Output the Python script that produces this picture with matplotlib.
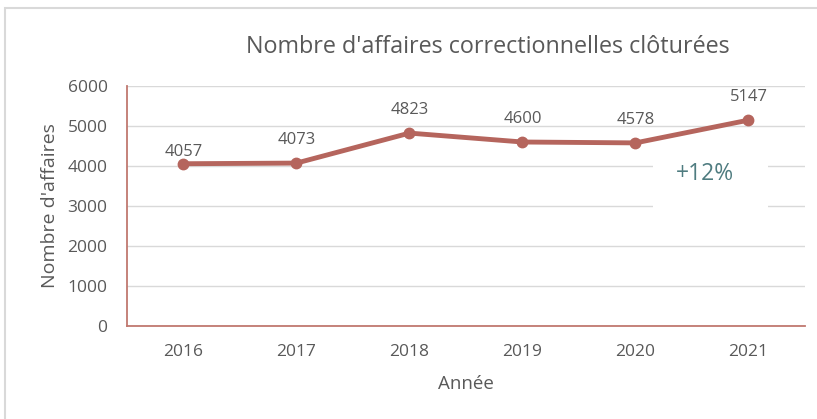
import matplotlib.pyplot as plt
from matplotlib.patches import Rectangle

years = ["2016", "2017", "2018", "2019", "2020", "2021"]
affaires = [4057, 4073, 4823, 4600, 4578, 5147]
yticks = [0, 1000, 2000, 3000, 4000, 5000, 6000]
growth_label = "+12%"

plt.rcParams["font.family"] = ["Open Sans", "DejaVu Sans"]
grey = "#595959"
line_col = "#B5655D"
spine_col = "#C0786F"

fig = plt.figure(figsize=(8.17, 4.19), dpi=100)
ax = fig.add_axes([0.1554, 0.222, 0.8299, 0.5727])

x = list(range(len(years)))
ax.plot(x, affaires, color=line_col, lw=3.5, marker="o", ms=7.5, zorder=4)
# first label sits a bit lower in the original
label_dy = [3, 11, 11, 11, 11, 11]
for xi, v, dy in zip(x, affaires, label_dy):
    ax.annotate(str(v), (xi, v), xytext=(0, dy), textcoords="offset points",
                ha="center", va="bottom", fontsize=12, color=grey)

ax.set_xlim(-0.5, len(years) - 0.5)
ax.set_ylim(0, 6000)
ax.set_xticks(x)
ax.set_xticklabels(years)
ax.set_yticks(yticks)
ax.tick_params(length=0, labelsize=12.5, labelcolor=grey)
ax.tick_params(axis="x", pad=13)
ax.tick_params(axis="y", pad=14)
ax.grid(axis="y", color="#D9D9D9", lw=1, zorder=0)
ax.set_axisbelow(True)
for s in ("top", "right"):
    ax.spines[s].set_visible(False)
for s in ("left", "bottom"):
    ax.spines[s].set_color(spine_col)
    ax.spines[s].set_linewidth(1.3)

# white box hiding the grid behind the growth label
ax.add_patch(Rectangle((0.776, 2775), 0.169, 1875, transform=ax.get_yaxis_transform(),
                       facecolor="white", edgecolor="none", zorder=2))
ax.text(0.852, 3800, growth_label, transform=ax.get_yaxis_transform(),
        ha="center", va="center", fontsize=16.5, color="#4F7C80", zorder=5)

ax.set_xlabel("Année", fontsize=13.5, color=grey, labelpad=11)
ax.set_ylabel("Nombre d'affaires", fontsize=14, color=grey, labelpad=6)
fig.text(0.597, 0.888, "Nombre d'affaires correctionnelles clôturées",
         ha="center", va="center", fontsize=16.8, color=grey)

fig.add_artist(Rectangle((5 / 817, -0.05), 1.0, 1 - 8 / 419 + 0.05,
                         transform=fig.transFigure, facecolor="none",
                         edgecolor="#D9D9D9", lw=1.5))

fig.savefig("out.png", dpi=100)
